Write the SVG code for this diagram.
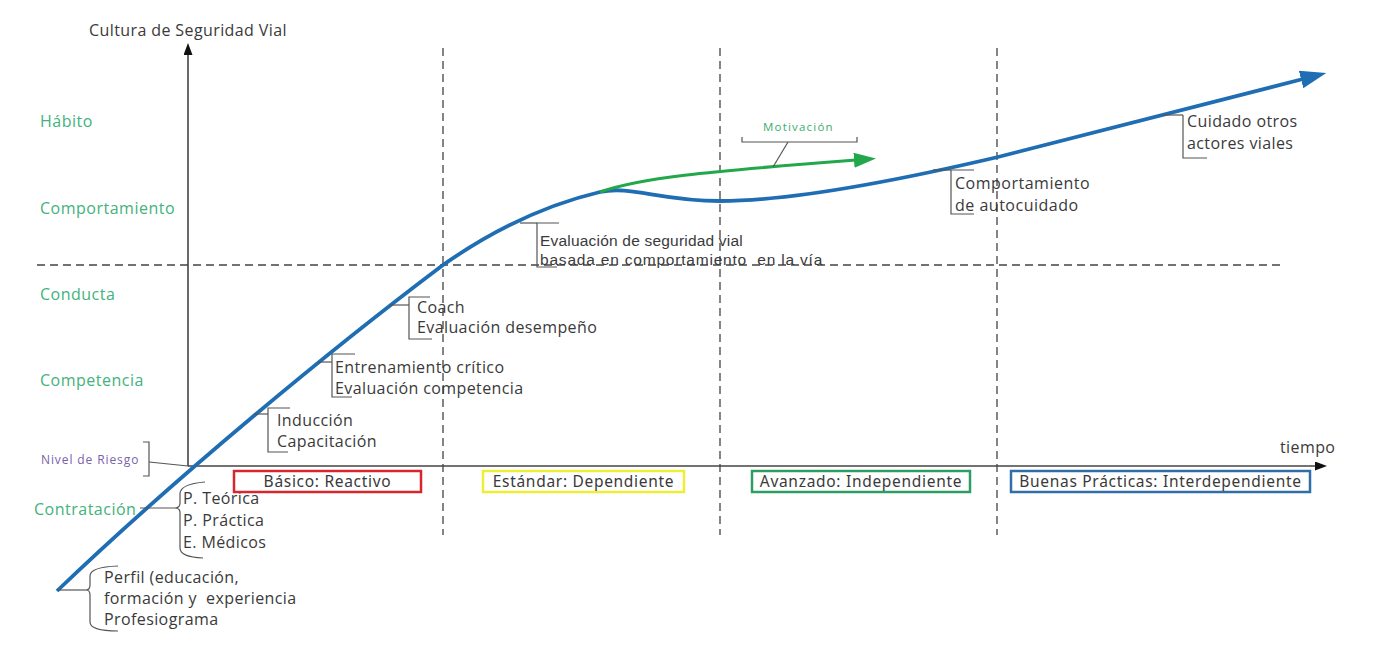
<svg xmlns="http://www.w3.org/2000/svg" width="1398" height="652" viewBox="0 0 1398 652">
<style>
.lvl{font-family:"Open Sans","Noto Sans",sans-serif;font-size:16px;letter-spacing:0.5px;fill:#43b27c}
.ann{font-family:"Open Sans","Noto Sans",sans-serif;font-size:16px;letter-spacing:0.4px;fill:#3a3a3a}
.arial{font-family:"Liberation Sans",Arial,sans-serif;font-size:15.5px;fill:#3a3a3a}
.ph{font-family:"Noto Sans","Open Sans",sans-serif;font-size:15.5px;letter-spacing:0.7px;fill:#3a3a3a;text-anchor:middle}
.box{fill:none;stroke-width:2.5}
.dash{stroke:#444;stroke-width:1.3;stroke-dasharray:8 5;fill:none}
.brk{stroke:#555;stroke-width:1.2;fill:none}
.axis{stroke:#444;stroke-width:1.6;fill:none}
</style>
<defs>
<marker id="ahBlue" markerUnits="userSpaceOnUse" markerWidth="26" markerHeight="18" viewBox="0 0 26 18" refX="2" refY="9" orient="auto"><path d="M0,0 L26,9 L0,18 z" fill="#1f6db3"/></marker>
<marker id="ahGreen" markerUnits="userSpaceOnUse" markerWidth="22" markerHeight="15" viewBox="0 0 22 15" refX="2" refY="7.5" orient="auto"><path d="M0,0 L22,7.5 L0,15 z" fill="#22a84a"/></marker>
<marker id="ahBlack" markerUnits="userSpaceOnUse" markerWidth="12" markerHeight="9" viewBox="0 0 12 9" refX="1" refY="4.5" orient="auto"><path d="M0,0 L12,4.5 L0,9 z" fill="#111"/></marker>
</defs>
<rect width="1398" height="652" fill="#fff"/>

<g id="grid">
<line class="dash" x1="443" y1="48" x2="443" y2="535"/>
<line class="dash" x1="720" y1="48" x2="720" y2="535"/>
<line class="dash" x1="997" y1="48" x2="997" y2="535"/>
<line class="dash" x1="37" y1="265" x2="1280" y2="265"/>
</g>

<g id="axes">
<line class="axis" x1="188" y1="466" x2="188" y2="54" marker-end="url(#ahBlack)"/>
<line class="axis" x1="188" y1="466" x2="1316" y2="466" marker-end="url(#ahBlack)"/>
<text class="ann" x="89" y="36">Cultura de Seguridad Vial</text>
<text class="ann" x="1280" y="453">tiempo</text>
</g>

<g id="levels">
<text class="lvl" x="40" y="127">Hábito</text>
<text class="lvl" x="40" y="214">Comportamiento</text>
<text class="lvl" x="40" y="300">Conducta</text>
<text class="lvl" x="40" y="386">Competencia</text>
<text class="lvl" x="34" y="515">Contratación</text>
<text x="41" y="464" style="font-family:'Open Sans','Noto Sans',sans-serif;font-size:12px;letter-spacing:0.9px;fill:#7a62a8">Nivel de Riesgo</text>
</g>

<g id="curve">
<path d="M57,591 C175,478 330,350 443,265 C490,232 545,205 600,192 C630,185 660,201 720,201 C790,201 900,180 998,157 L1303,79" fill="none" stroke="#1f6db3" stroke-width="3.8" marker-end="url(#ahBlue)"/>
</g>

<g id="motivacion">
<path d="M600,192 C640,178 700,172 856,160" fill="none" stroke="#22a84a" stroke-width="3" marker-end="url(#ahGreen)"/>
<text x="763" y="131" style="font-family:'Open Sans','Noto Sans',sans-serif;font-size:11.5px;letter-spacing:1.2px;fill:#3aae6e">Motivación</text>
<path class="brk" d="M742,137 L742,142 L857,142 L857,137"/>
</g>

<g id="connectors">
<line class="brk" x1="149" y1="462" x2="188" y2="466"/>
<line class="brk" x1="140" y1="508" x2="175" y2="508"/>
<line class="brk" x1="58" y1="590" x2="86" y2="590"/>
<line class="brk" x1="254" y1="414" x2="268" y2="414"/>
<line class="brk" x1="318" y1="362" x2="332" y2="362"/>
<line class="brk" x1="390" y1="305" x2="409" y2="305"/>
<line class="brk" x1="520" y1="223" x2="537" y2="223"/>
<line class="brk" x1="933" y1="170" x2="951" y2="170"/>
<line class="brk" x1="1163" y1="115" x2="1183" y2="115"/>
<line class="brk" x1="788" y1="142" x2="773" y2="167"/>
</g>

<g id="nivel-riesgo">
<path class="brk" d="M143,442 L149,442 L149,476 L143,476"/>
</g>

<g id="perfil">
<path class="brk" d="M118,566 Q90,567 90,576 L90,585 Q90,590 86,590 Q90,590 90,595 L90,622 Q90,631 118,631"/>
<text class="ann" x="104" y="583">Perfil (educación,</text>
<text class="ann" x="104" y="604" xml:space="preserve">formación y  experiencia</text>
<text class="ann" x="104" y="625">Profesiograma</text>
</g>

<g id="contratacion">
<path class="brk" d="M205,482 Q180,484 180,494 L180,503 Q180,508 175,508 Q180,508 180,513 L180,548 Q180,557 203,558"/>
<text class="ann" x="183" y="504">P. Teórica</text>
<text class="ann" x="183" y="526">P. Práctica</text>
<text class="ann" x="183" y="548">E. Médicos</text>
</g>

<g id="induccion">
<path class="brk" d="M290,408 L268,408 L268,452 L288,452"/>
<text class="ann" x="277" y="426">Inducción</text>
<text class="ann" x="277" y="447">Capacitación</text>
</g>

<g id="entrenamiento">
<path class="brk" d="M355,354 L332,354 L332,397 L352,397"/>
<text class="ann" x="335" y="373">Entrenamiento crítico</text>
<text class="ann" x="335" y="394">Evaluación competencia</text>
</g>

<g id="coach">
<path class="brk" d="M430,297 L409,297 L409,339 L432,339"/>
<text class="ann" x="417" y="313">Coach</text>
<text class="ann" x="417" y="333">Evaluación desempeño</text>
</g>

<g id="evaluacion-via">
<path class="brk" d="M559,223 L537,223 L537,267 L557,267"/>
<text class="arial" x="540" y="246" style="letter-spacing:0.2px">Evaluación de seguridad vial</text>
<text class="arial" x="540" y="265" style="letter-spacing:0.8px" xml:space="preserve">basada en comportamiento  en la vía</text>
</g>

<g id="autocuidado">
<path class="brk" d="M974,170 L951,170 L951,214 L974,214"/>
<text class="ann" x="955" y="189" style="letter-spacing:0.5px">Comportamiento</text>
<text class="ann" x="955" y="211" style="letter-spacing:0.5px">de autocuidado</text>
</g>

<g id="cuidado-otros">
<path class="brk" d="M1183,115 L1183,158 L1207,158"/>
<text class="ann" x="1187" y="127">Cuidado otros</text>
<text class="ann" x="1187" y="149">actores viales</text>
</g>

<g id="fase-basico">
<rect class="box" x="234" y="471" width="187" height="21" stroke="#d8262e"/>
<text class="ph" x="327.5" y="487">Básico: Reactivo</text>
</g>
<g id="fase-estandar">
<rect class="box" x="483" y="471" width="201" height="21" stroke="#eeee36"/>
<text class="ph" x="583.5" y="487">Estándar: Dependiente</text>
</g>
<g id="fase-avanzado">
<rect class="box" x="752" y="471" width="218" height="21" stroke="#2c9e64"/>
<text class="ph" x="861" y="487">Avanzado: Independiente</text>
</g>
<g id="fase-buenas">
<rect class="box" x="1011" y="471" width="299" height="21" stroke="#2f6ea8"/>
<text class="ph" x="1160.5" y="487">Buenas Prácticas: Interdependiente</text>
</g>
</svg>
